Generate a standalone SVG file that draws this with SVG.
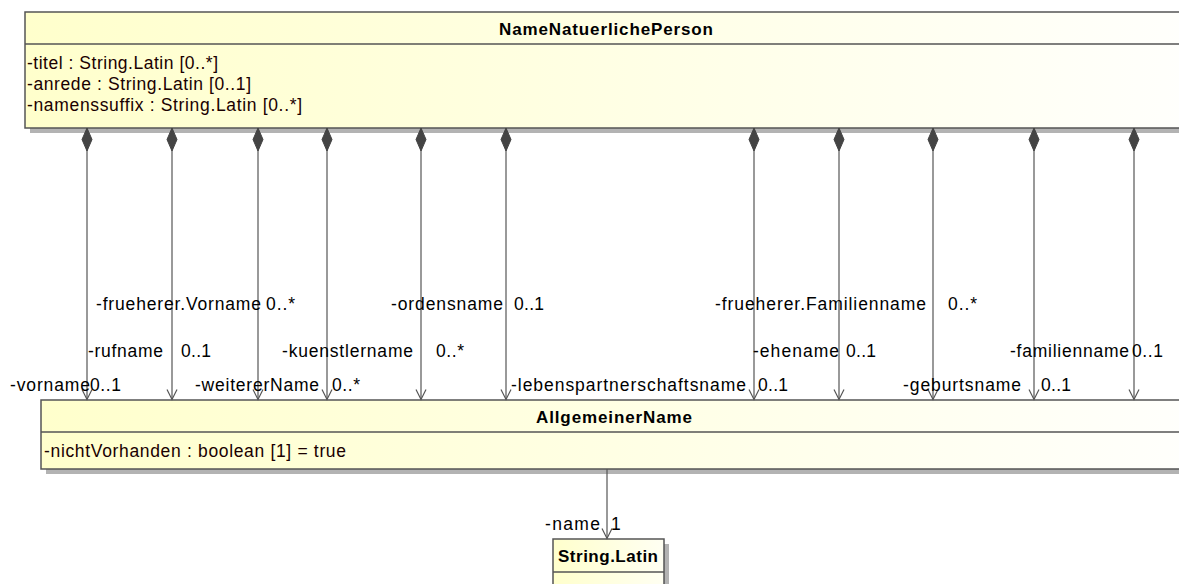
<svg xmlns="http://www.w3.org/2000/svg" width="1179" height="584" viewBox="0 0 1179 584">
<style>
.box{stroke:#555;stroke-width:1.5}
.sh{fill:#b3b3b3}
.t{font-family:"Liberation Sans",Arial,sans-serif;font-size:17.5px;fill:#000}
.a{font-family:"Liberation Sans",Arial,sans-serif;font-size:17.5px;fill:#1a0000}
.b{font-family:"Liberation Sans",Arial,sans-serif;font-size:17px;font-weight:bold;fill:#000}
.ln{stroke:#555;stroke-width:1.2;fill:none}
</style>
<defs>
<linearGradient id="gTop" gradientUnits="userSpaceOnUse" x1="25" y1="0" x2="1260" y2="0">
<stop offset="0" stop-color="#FFFFCC"/><stop offset="1" stop-color="#FFFFFF"/>
</linearGradient>
<linearGradient id="gMid" gradientUnits="userSpaceOnUse" x1="41" y1="0" x2="1260" y2="0">
<stop offset="0" stop-color="#FFFFCC"/><stop offset="1" stop-color="#FFFFFF"/>
</linearGradient>
<linearGradient id="gBot" gradientUnits="userSpaceOnUse" x1="553" y1="0" x2="700" y2="0">
<stop offset="0" stop-color="#FFFFCC"/><stop offset="1" stop-color="#FFFFFF"/>
</linearGradient>
<marker id="dia" markerUnits="userSpaceOnUse" markerWidth="30" markerHeight="14" viewBox="-1 -7 30 14" refX="0" refY="0" orient="auto">
<path d="M0,0 L11.5,5 L23,0 L11.5,-5 Z" fill="#444" stroke="#444" stroke-width="1"/>
</marker>
<marker id="arr" markerUnits="userSpaceOnUse" markerWidth="14" markerHeight="14" viewBox="-12 -7 14 14" refX="0" refY="0" orient="auto">
<path d="M-10,-5 L0,0 L-10,5" fill="none" stroke="#555" stroke-width="1.2"/>
</marker>
</defs>

<g id="NameNatuerlichePerson">
<rect class="sh" x="30" y="17" width="1170" height="116"/>
<rect class="box" x="25" y="12" width="1175" height="116" fill="url(#gTop)"/>
<line class="box" x1="25" y1="44" x2="1200" y2="44"/>
<text class="b" x="499" y="35" textLength="214" lengthAdjust="spacing">NameNatuerlichePerson</text>
<text class="a" x="27" y="69" textLength="191" lengthAdjust="spacing">-titel : String.Latin [0..*]</text>
<text class="a" x="27" y="90" textLength="224" lengthAdjust="spacing">-anrede : String.Latin [0..1]</text>
<text class="a" x="27" y="111" textLength="275" lengthAdjust="spacing">-namenssuffix : String.Latin [0..*]</text>
</g>

<g id="AllgemeinerName">
<rect class="sh" x="46" y="405" width="1154" height="69"/>
<rect class="box" x="41" y="400" width="1159" height="69" fill="url(#gMid)"/>
<line class="box" x1="41" y1="432" x2="1200" y2="432"/>
<text class="b" x="536" y="423" textLength="156" lengthAdjust="spacing">AllgemeinerName</text>
<text class="a" x="44" y="457" textLength="302" lengthAdjust="spacing">-nichtVorhanden : boolean [1] = true</text>
</g>

<g id="StringLatin">
<rect class="sh" x="558" y="544" width="111" height="50"/>
<rect class="box" x="553" y="539" width="111" height="55" fill="url(#gBot)"/>
<line class="box" x1="553" y1="572" x2="664" y2="572"/>
<text class="b" x="558" y="562" textLength="100" lengthAdjust="spacing">String.Latin</text>
</g>

<g id="connectors">
<line class="ln" x1="87" y1="128" x2="87" y2="399.5" marker-start="url(#dia)" marker-end="url(#arr)"/>
<line class="ln" x1="172" y1="128" x2="172" y2="399.5" marker-start="url(#dia)" marker-end="url(#arr)"/>
<line class="ln" x1="258" y1="128" x2="258" y2="399.5" marker-start="url(#dia)" marker-end="url(#arr)"/>
<line class="ln" x1="327" y1="128" x2="327" y2="399.5" marker-start="url(#dia)" marker-end="url(#arr)"/>
<line class="ln" x1="421" y1="128" x2="421" y2="399.5" marker-start="url(#dia)" marker-end="url(#arr)"/>
<line class="ln" x1="506" y1="128" x2="506" y2="399.5" marker-start="url(#dia)" marker-end="url(#arr)"/>
<line class="ln" x1="754" y1="128" x2="754" y2="399.5" marker-start="url(#dia)" marker-end="url(#arr)"/>
<line class="ln" x1="839" y1="128" x2="839" y2="399.5" marker-start="url(#dia)" marker-end="url(#arr)"/>
<line class="ln" x1="933" y1="128" x2="933" y2="399.5" marker-start="url(#dia)" marker-end="url(#arr)"/>
<line class="ln" x1="1034" y1="128" x2="1034" y2="399.5" marker-start="url(#dia)" marker-end="url(#arr)"/>
<line class="ln" x1="1134" y1="128" x2="1134" y2="399.5" marker-start="url(#dia)" marker-end="url(#arr)"/>
<line class="ln" x1="607" y1="469" x2="607" y2="538.5" marker-end="url(#arr)"/>
</g>

<g id="labels">
<text class="t" x="96" y="310" textLength="165" lengthAdjust="spacing">-frueherer.Vorname</text>
<text class="t" x="266" y="310" textLength="29" lengthAdjust="spacing">0..*</text>
<text class="t" x="391" y="310" textLength="112" lengthAdjust="spacing">-ordensname</text>
<text class="t" x="514" y="310" textLength="30" lengthAdjust="spacing">0..1</text>
<text class="t" x="715" y="310" textLength="211" lengthAdjust="spacing">-frueherer.Familienname</text>
<text class="t" x="948" y="310" textLength="29" lengthAdjust="spacing">0..*</text>

<text class="t" x="88" y="357" textLength="75" lengthAdjust="spacing">-rufname</text>
<text class="t" x="181" y="357" textLength="30" lengthAdjust="spacing">0..1</text>
<text class="t" x="282" y="357" textLength="131" lengthAdjust="spacing">-kuenstlername</text>
<text class="t" x="436" y="357" textLength="28" lengthAdjust="spacing">0..*</text>
<text class="t" x="753" y="357" textLength="86" lengthAdjust="spacing">-ehename</text>
<text class="t" x="846" y="357" textLength="30" lengthAdjust="spacing">0..1</text>
<text class="t" x="1010" y="357" textLength="119" lengthAdjust="spacing">-familienname</text>
<text class="t" x="1132" y="357" textLength="31" lengthAdjust="spacing">0..1</text>

<text class="t" x="10" y="391" textLength="80" lengthAdjust="spacing">-vorname</text>
<text class="t" x="90" y="391" textLength="31" lengthAdjust="spacing">0..1</text>
<text class="t" x="195" y="391" textLength="124" lengthAdjust="spacing">-weitererName</text>
<text class="t" x="332" y="391" textLength="28" lengthAdjust="spacing">0..*</text>
<text class="t" x="511" y="391" textLength="235" lengthAdjust="spacing">-lebenspartnerschaftsname</text>
<text class="t" x="758" y="391" textLength="30" lengthAdjust="spacing">0..1</text>
<text class="t" x="903" y="391" textLength="118" lengthAdjust="spacing">-geburtsname</text>
<text class="t" x="1041" y="391" textLength="30" lengthAdjust="spacing">0..1</text>

<text class="t" x="545" y="530" textLength="55" lengthAdjust="spacing">-name</text>
<text class="t" x="611" y="530">1</text>
</g>
</svg>
